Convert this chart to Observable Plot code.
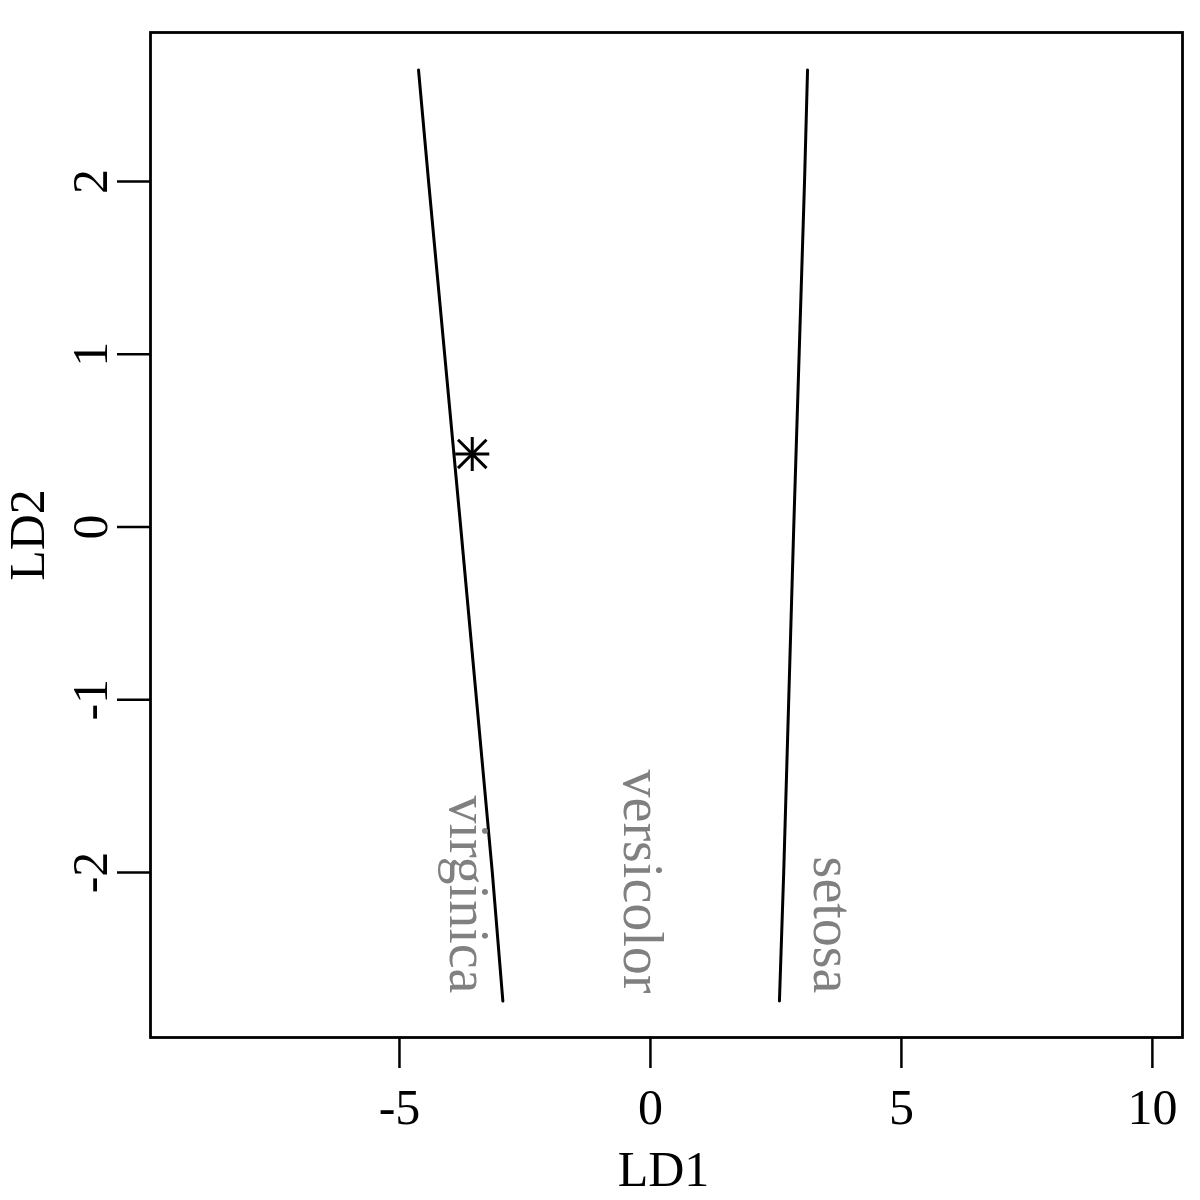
<!DOCTYPE html>
<html>
<head>
<meta charset="utf-8">
<script src="https://cdn.jsdelivr.net/npm/d3@7"></script>
<script src="https://cdn.jsdelivr.net/npm/@observablehq/plot@0.6"></script>
<style>
  html, body { margin: 0; padding: 0; background: #fff; }
</style>
</head>
<body>
<div id="chart"></div>
<script>
// ---- data ----
const xTicks = [-5, 0, 5, 10];
const yTicks = [-2, -1, 0, 1, 2];

// boundary between virginica and versicolor (LD1, LD2)
const boundary1LD1 = [-4.62, -4.42, -3.78, -3.15, -2.94];
const boundary1LD2 = [2.645, 2, 0, -2, -2.744];

// boundary between versicolor and setosa
const boundary2LD1 = [3.13, 3.07, 2.855, 2.655, 2.57];
const boundary2LD2 = [2.645, 2, 0, -2, -2.744];

// class labels
const classNames = ["virginica", "versicolor", "setosa"];
const classLD1 = [-3.64, -0.16, 3.62];
const classLD2 = [-2.70, -2.70, -2.70];

// the marked observation
const pointLD1 = [-3.55];
const pointLD2 = [0.423];

const line1 = boundary1LD1.map((x, i) => ({x, y: boundary1LD2[i]}));
const line2 = boundary2LD1.map((x, i) => ({x, y: boundary2LD2[i]}));
const labels = classNames.map((name, i) => ({name, x: classLD1[i], y: classLD2[i]}));
const pts = pointLD1.map((x, i) => ({x, y: pointLD2[i]}));

const font = "'Liberation Serif', 'Times New Roman', serif";

const chart = Plot.plot({
  width: 1200,
  height: 1200,
  marginLeft: 150,
  marginRight: 18,
  marginTop: 32,
  marginBottom: 163,
  style: {fontFamily: font, background: "#fff", color: "#000"},
  x: {domain: [-9.96, 10.6]},
  y: {domain: [-2.955, 2.8625]},
  marks: [
    Plot.frame({stroke: "#000", strokeWidth: 2.8}),
    Plot.axisX({ticks: xTicks, tickSize: 31, tickPadding: 20, fontSize: 50, strokeWidth: 2.5, label: null, tickFormat: d => String(d).replace("−", "-")}),
    Plot.axisY({ticks: yTicks, tickSize: 33, tickPadding: 11, tickRotate: -90, fontSize: 50, strokeWidth: 2.5, label: null, tickFormat: d => String(d).replace("−", "-")}),
    Plot.text(["LD1"], {frameAnchor: "bottom", textAnchor: "middle", dx: -3, dy: 148, lineAnchor: "bottom", fontSize: 50, fill: "#000"}),
    Plot.text(["LD2"], {frameAnchor: "left", textAnchor: "middle", dx: -107, rotate: -90, lineAnchor: "bottom", fontSize: 50, fill: "#000"}),
    Plot.line(line1, {x: "x", y: "y", stroke: "#000", strokeWidth: 3}),
    Plot.line(line2, {x: "x", y: "y", stroke: "#000", strokeWidth: 3}),
    Plot.text(labels, {x: "x", y: "y", text: "name", rotate: 90, textAnchor: "end", lineAnchor: "middle", fontSize: 56, fill: "#808080"}),
    Plot.dot(pts, {x: "x", y: "y", symbol: "plus", r: 11, stroke: "#000", strokeWidth: 3}),
    Plot.dot(pts, {x: "x", y: "y", symbol: "times", r: 13, stroke: "#000", strokeWidth: 3})
  ]
});
document.getElementById("chart").appendChild(chart);
</script>
</body>
</html>
